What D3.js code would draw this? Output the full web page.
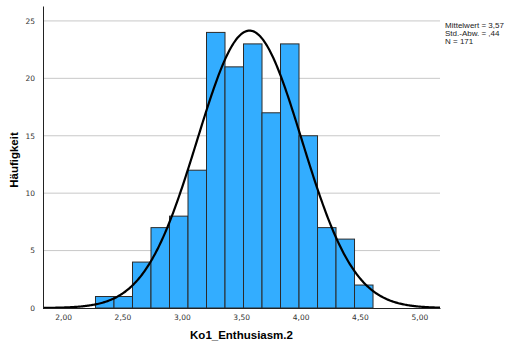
<!DOCTYPE html>
<html>
<head>
<meta charset="utf-8">
<script src="https://cdn.jsdelivr.net/npm/d3@7"></script>
<style>
  body { margin: 0; background: #fff; }
  text { font-family: "Liberation Sans", "DejaVu Sans", sans-serif; }
</style>
</head>
<body>
<div id="chart"></div>
<script>
// histogram bins (lower edge of first bin, bin width) and counts
const binStart = 2.273;
const binWidth = 0.1558;
const counts = [1, 1, 4, 7, 8, 12, 24, 21, 23, 17, 23, 15, 7, 6, 2];

// descriptive stats shown at the right
const mean = 3.57, sd = 0.44, n = 171;
const statLines = ["Mittelwert = 3,57", "Std.-Abw. = ,44", "N = 171"];

const xTicks = [2.0, 2.5, 3.0, 3.5, 4.0, 4.5, 5.0];
const yTicks = [0, 5, 10, 15, 20, 25];

const W = 509, H = 343;
const margin = {top: 6, right: 69, bottom: 35, left: 43};
const innerW = W - margin.left - margin.right;
const innerH = H - margin.top - margin.bottom;

const svg = d3.select("#chart").append("svg")
    .attr("width", W).attr("height", H);
const g = svg.append("g").attr("transform", `translate(${margin.left},${margin.top})`);

const x = d3.scaleLinear().domain([1.831, 5.174]).range([0, innerW]);
const y = d3.scaleLinear().domain([0, 26.3]).range([innerH, 0]);

// gridlines
g.append("g")
    .selectAll("line")
    .data(yTicks.filter(d => d > 0))
    .join("line")
    .attr("x1", 0).attr("x2", innerW)
    .attr("y1", d => y(d)).attr("y2", d => y(d))
    .attr("stroke", "#c8c8c8").attr("stroke-width", 1);

// bars
const bins = counts.map((c, i) => ({x0: binStart + i * binWidth, x1: binStart + (i + 1) * binWidth, c}));
g.append("g")
    .selectAll("rect")
    .data(bins)
    .join("rect")
    .attr("x", d => x(d.x0))
    .attr("y", d => y(d.c))
    .attr("width", d => x(d.x1) - x(d.x0))
    .attr("height", d => y(0) - y(d.c))
    .attr("fill", "#33adff")
    .attr("stroke", "#2b2b2b")
    .attr("stroke-width", 1);

// normal curve scaled to counts
const scale = n * binWidth / (sd * Math.sqrt(2 * Math.PI));
const curve = d3.range(0, 401).map(i => {
    const v = x.domain()[0] + (x.domain()[1] - x.domain()[0]) * i / 400;
    return [v, scale * Math.exp(-0.5 * ((v - mean) / sd) ** 2)];
});
g.append("path")
    .datum(curve)
    .attr("fill", "none")
    .attr("stroke", "#000")
    .attr("stroke-width", 2.2)
    .attr("d", d3.line().x(d => x(d[0])).y(d => y(d[1])));

// axes
const fmt = d => d.toFixed(2).replace(".", ",");
const xAxis = g.append("g").attr("transform", `translate(0,${innerH})`)
    .call(d3.axisBottom(x).tickValues(xTicks).tickFormat(fmt).tickSize(0).tickPadding(7));
const yAxis = g.append("g")
    .call(d3.axisLeft(y).tickValues(yTicks).tickSize(0).tickPadding(8));
[xAxis, yAxis].forEach(a => {
    a.select(".domain").attr("stroke", "#222").attr("stroke-width", 1);
    a.selectAll("text").attr("font-size", "7.5px").attr("fill", "#333")
        .style("font-family", "'DejaVu Sans', sans-serif");
});

// axis titles
svg.append("text")
    .attr("x", margin.left + innerW / 2).attr("y", 339)
    .attr("text-anchor", "middle")
    .style("font-size", "11.5px").style("font-weight", 700)
    .text("Ko1_Enthusiasm.2");

svg.append("text")
    .attr("transform", `translate(18,160) rotate(-90)`)
    .attr("text-anchor", "middle")
    .style("font-size", "11.5px").style("font-weight", 700)
    .text("Häufigkeit");

// stats
svg.append("g")
    .selectAll("text")
    .data(statLines)
    .join("text")
    .attr("x", 445).attr("y", (d, i) => 27.5 + i * 8)
    .style("font-size", "8px").attr("fill", "#222")
    .text(d => d);
</script>
</body>
</html>
